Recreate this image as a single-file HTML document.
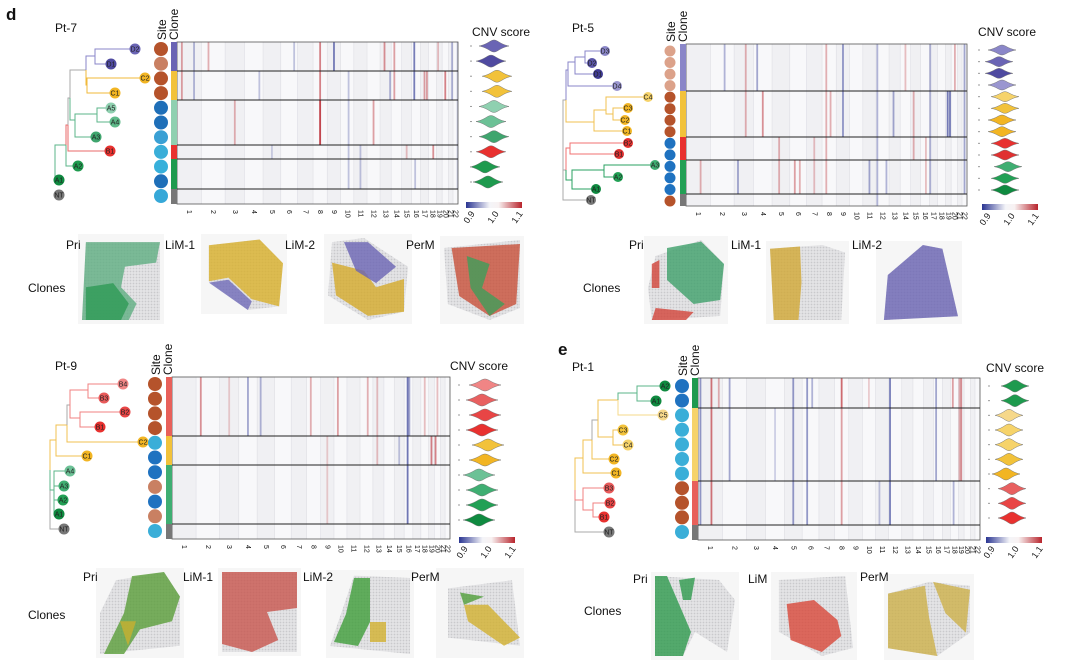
<!DOCTYPE html>
<html><head><meta charset="utf-8"><style>
html,body{margin:0;padding:0;background:#fff;}
svg{display:block;font-family:"Liberation Sans",sans-serif;}
</style></head><body>
<svg id="fig" width="1080" height="671" viewBox="0 0 1080 671" xmlns="http://www.w3.org/2000/svg">
<defs>
<linearGradient id="cb" x1="0" x2="1" y1="0" y2="0">
<stop offset="0" stop-color="#2a3592"/><stop offset="0.42" stop-color="#f4f4f8"/><stop offset="0.58" stop-color="#f8f2f2"/><stop offset="1" stop-color="#b8242c"/></linearGradient>
<pattern id="dots" width="3" height="3" patternUnits="userSpaceOnUse"><rect width="3" height="3" fill="#e4e4e6"/><circle cx="1.5" cy="1.5" r="0.9" fill="#c9c9cc"/></pattern>
</defs>
<g id="root"></g>
</svg>
<script>
// ---- shared data ----
const chromSizes=[249,243,198,190,181,171,159,145,138,134,135,133,114,107,102,90,83,80,59,64,47,51];
const chromLabels=['1','2','3','4','5','6','7','8','9','10','11','12','13','14','15','16','17','18','19','20','21','22'];
const cbTicks=['0.9','1.0','1.1'];

// ---- Pt-7 ----
const pt7Nodes=[
 ['R',55,162,'',null,'#5bb58a'],['A1',59,180,'A1','R','#5bb58a'],['X1',66,145,'',"R",'#5bb58a'],
 ['A2',78,166,'A2','X1','#5bb58a'],['X2',68,125,'','X1','#e86a6a'],['B1',110,151,'B1','X2','#e86a6a'],
 ['X3',70,98,'','X2','#aaaaaa'],['X4',75,120,'','X3','#5bb58a'],['A3',96,137,'A3','X4','#5bb58a'],
 ['X6',97,114,'','X4','#5bb58a'],['A5',111,108,'A5','X6','#5bb58a'],['A4',115,122,'A4','X6','#5bb58a'],
 ['X5',86,70,'','X3','#aaaaaa'],['X7',95,56,'','X5','#8a86c8'],['D2',135,49,'D2','X7','#8a86c8'],
 ['D1',111,64,'D1','X7','#8a86c8'],['X8',87,85,'','X5','#f0b93a'],['C2',145,78,'C2','X8','#f0b93a'],
 ['C1',115,93,'C1','X8','#f0b93a'],['NT',59,195,'NT',null,'#aaa']];
const pt7NodeColors={D2:'#6a64b4',D1:'#4f4aa0',C2:'#f2b523',C1:'#f2b523',A5:'#8fd0b0',A4:'#5fbb8a',A3:'#3fa56e',B1:'#e8312f',A2:'#1e9a4e',A1:'#0f8a40',NT:'#777'};
const pt7Site=['#b5532b','#c98062','#b5532b','#b5532b','#1f6fb8','#1f6fb8','#3aa0d4','#3aaed8','#37b0db','#1f6fb8','#36a8d8'];
const pt7Clones=[29,29,45,14,30,15];
const pt7CloneColors=['#6a64b4','#f2c23a','#8fd0b0','#e8312f','#1e9a4e','#777'];
const pt7Events=[[1,0.2,0,1,0.6],[1,0.7,0,1,-0.5],[2,0.3,0,0,0.5],[3,0.5,2,2,0.5],[4,0.8,1,1,-0.4],[8,0.5,0,2,0.8],[8,0.5,2,2,0.9],[9,0.5,0,0,-0.9],[10,0.6,1,4,-0.4],[12,0.5,2,2,0.6],[13,0.4,0,0,0.7],[14,0.3,0,1,0.6],[13,0.9,1,1,-0.5],[16,0.3,0,1,-0.9],[17,0.5,1,1,0.6],[17,0.8,1,1,0.6],[18,0.6,3,3,0.7],[20,0.5,1,1,0.8],[21,0.8,0,1,-0.5],[19,0.3,0,0,0.4],[22,0.9,0,4,-0.3],[5,0.5,3,3,-0.3],[11,0.5,3,4,-0.4],[6,0.8,0,0,-0.4],[16,0.4,4,4,-0.4],[15,0.5,3,3,0.4]];
const pt7ViolinScore=[1.0,0.99,1.01,1.01,1.0,0.99,1.0,0.99,0.97,0.98];
const pt7ViolinColors=['#6a64b4','#4f4aa0','#f2c23a','#f2c23a','#8fd0b0','#6cc196','#3fa56e','#e8312f','#1e9a4e','#1e9a4e'];

// ---- Pt-5 ----
const pt5Nodes=[
 ['R',563,142,'',null,'#aaa'],['NT',591,200,'NT','R','#aaa'],['Up',566,100,'','R','#aaa'],['Lo',566,170,'','R','#aaa'],
 ['Pp',568,70,'','Up','#8a86c8'],['D4',617,86,'D4','Pp','#8a86c8'],['Pq',575,62,'','Pp','#8a86c8'],['D1',598,74,'D1','Pq','#8a86c8'],
 ['Pr',585,57,'','Pq','#8a86c8'],['D3',605,51,'D3','Pr','#8a86c8'],['D2',592,63,'D2','Pr','#8a86c8'],
 ['Yy',594,122,'','Up','#f0c050'],['C1',627,131,'C1','Yy','#f0c050'],['Y2',606,110,'','Yy','#f0c050'],['C4',648,97,'C4','Y2','#f0c050'],
 ['Y3',613,114,'','Y2','#f0c050'],['C3',628,108,'C3','Y3','#f0c050'],['C2',625,120,'C2','Y3','#f0c050'],
 ['Rr',570,148,'','Lo','#f07070'],['B2',628,143,'B2','Rr','#f07070'],['B1',619,154,'B1','Rr','#f07070'],
 ['Gg',572,180,'','Lo','#2aa060'],['A1',596,189,'A1','Gg','#2aa060'],['Ga',604,170,'','Gg','#2aa060'],['A3',655,165,'A3','Ga','#2aa060'],['A2',618,177,'A2','Ga','#2aa060']];
const pt5NodeColors={D3:'#8a86c8',D2:'#5a55a8',D1:'#3f3a94',D4:'#9a96d0',C4:'#f6d36a',C3:'#f2b523',C2:'#f2b523',C1:'#f2b523',B2:'#e8312f',B1:'#e03030',A3:'#3fae72',A2:'#22a055',A1:'#0f8a40',NT:'#777'};
const pt5Site=['#dca28a','#dca28a','#dca28a','#dca28a','#b5532b','#b5532b','#b5532b','#b5532b','#1f72c0','#1f72c0','#1f72c0','#1f72c0','#1f72c0','#b5532b'];
const pt5Clones=[47,46,23,34,12];
const pt5CloneColors=['#8a86c8','#f2c23a','#e8312f','#22a055','#777'];
const pt5Events=[[3,0.6,0,1,0.5],[4,0.2,0,0,-0.6],[4,0.5,1,1,0.7],[5,0.4,2,3,0.5],[6,0.3,3,3,0.6],[6,0.6,3,3,0.5],[8,0.3,0,3,0.5],[8,0.6,1,1,0.5],[9,0.5,0,1,-0.7],[12,0.1,0,4,-0.5],[12,0.8,3,3,-0.5],[11,0.5,3,3,-0.6],[13,0.4,1,1,-0.6],[15,0.3,1,2,0.5],[17,0.1,0,3,-0.5],[19,0.4,1,1,-0.9],[19,0.8,1,1,-0.9],[22,0.5,0,3,-0.6],[2,0.6,0,0,-0.5],[3,0.2,3,3,-0.6],[1,0.6,3,3,0.5],[14,0.5,0,0,0.4],[20,0.6,0,0,0.5],[7,0.5,2,3,0.4],[16,0.6,2,3,0.4]];
const pt5ViolinScore=[1.0,0.99,0.99,1.0,1.01,1.01,1.0,1.0,1.01,1.01,1.02,1.01,1.01];
const pt5ViolinColors=['#8a86c8','#6a64b4','#4f4aa0','#9a96d0','#f6d36a','#f2c23a','#f2b523','#f2b523','#e8312f','#e03030','#3fae72','#22a055','#0f8a40'];

// ---- Pt-9 ----
const pt9Nodes=[
 ['R',50,470,'',null,'#aaa'],['NT',64,529,'NT','R','#aaa'],['G1',54,490,'','R','#5bb58a'],
 ['A1',59,514,'A1','G1','#5bb58a'],['A2',63,500,'A2','G1','#5bb58a'],['A3',64,486,'A3','G1','#5bb58a'],['A4',70,471,'A4','G1','#5bb58a'],
 ['Y1',56,440,'','R','#f0c050'],['C1',87,456,'C1','Y1','#f0c050'],['Y2',67,425,'','Y1','#f0c050'],['C2',143,442,'C2','Y2','#f0c050'],
 ['Rd',70,405,'','Y2','#aaa'],['Rd1',80,418,'','Rd','#f08080'],['B1',100,427,'B1','Rd1','#f08080'],['B2',125,412,'B2','Rd1','#f08080'],
 ['Rd2',88,390,'','Rd','#f08080'],['B3',104,398,'B3','Rd2','#f08080'],['B4',123,384,'B4','Rd2','#f08080']];
const pt9NodeColors={B4:'#f08585',B3:'#e85a5a',B2:'#e84545',B1:'#e8312f',C2:'#f2b523',C1:'#f2b523',A4:'#6cc196',A3:'#3fae72',A2:'#22a055',A1:'#0f8a40',NT:'#777'};
const pt9Site=['#b5532b','#b5532b','#b5532b','#b5532b','#3aaed8','#1f72c0','#1f72c0','#c98062','#1f72c0','#c98062','#3aaed8'];
const pt9Clones=[59,29,59,15];
const pt9CloneColors=['#e8605a','#f2c23a','#3fae72','#777'];
const pt9Events=[[2,0.2,0,0,0.7],[4,0.5,0,0,-0.6],[5,0.2,0,0,-0.5],[8,0.3,0,0,0.5],[10,0.3,0,0,0.6],[12,0.6,0,0,0.5],[13,0.4,0,1,0.4],[16,0.4,0,2,-0.95],[16,0.6,0,0,-0.6],[19,0.5,1,1,0.8],[20,0.2,1,1,0.8],[18,0.5,0,0,0.4],[20,0.5,0,0,0.4],[9,0.5,1,2,0.3],[15,0.5,1,1,-0.4],[3,0.5,0,0,0.3]];
const pt9ViolinScore=[1.01,1.0,1.01,1.0,1.02,1.01,0.99,1.0,1.0,0.99];
const pt9ViolinColors=['#f08585','#e86060','#e84545','#e8312f','#f2c23a','#f2b523','#6cc196','#3fae72','#22a055','#0f8a40'];

// ---- Pt-1 ----
const pt1Nodes=[
 ['R',575,490,'',null,'#aaa'],['NT',609,532,'NT','R','#aaa'],['Rr',583,500,'','R','#f08080'],['B3',609,488,'B3','Rr','#f08080'],
 ['Rb',593,510,'','Rr','#f08080'],['B2',610,503,'B2','Rb','#f08080'],['B1',604,517,'B1','Rb','#f08080'],
 ['Yy',583,458,'','R','#f0c050'],['C1',616,473,'C1','Yy','#f0c050'],['Y2',592,440,'','Yy','#f0c050'],['C2',614,459,'C2','Y2','#f0c050'],
 ['Y3',598,420,'','Y2','#aaa'],['Y4',613,437,'','Y3','#f0c050'],['C3',623,430,'C3','Y4','#f0c050'],['C4',628,445,'C4','Y4','#f0c050'],
 ['G0',618,400,'','Y3','#f0c050'],['C5',663,415,'C5','G0','#f6d88a'],['Ga',637,393,'','G0','#5bb58a'],['A2',665,386,'A2','Ga','#5bb58a'],['A1',656,401,'A1','Ga','#5bb58a']];
const pt1NodeColors={A2:'#0f8a40',A1:'#0f8a40',C5:'#f6d88a',C3:'#f2c23a',C4:'#f6d36a',C2:'#f2b523',C1:'#f2b523',B3:'#e85a5a',B2:'#e84545',B1:'#e8312f',NT:'#777'};
const pt1Site=['#1f72c0','#1f72c0','#3aaed8','#3aaed8','#3aaed8','#3aaed8','#3aaed8','#b5532b','#b5532b','#b5532b','#3aaed8'];
const pt1Clones=[30,73,44,15];
const pt1CloneColors=['#1e9a4e','#f6d36a','#e8605a','#777'];
const pt1Events=[[1,0.1,0,2,-0.7],[1,0.55,0,2,0.9],[1,0.85,0,0,0.5],[2,0.3,0,1,-0.6],[5,0.5,0,2,-0.7],[6,0.3,0,2,-0.7],[6,0.6,0,0,-0.5],[8,0.5,0,0,0.95],[8,0.5,1,2,0.6],[12,0.1,0,2,-0.9],[16,0.3,0,1,-0.6],[18,0.3,0,0,0.6],[19,0.5,0,1,0.7],[19,0.2,0,1,0.5],[11,0.3,2,2,-0.4],[18,0.4,2,2,-0.5],[4,0.5,1,1,-0.3],[10,0.5,0,0,0.3]];
const pt1ViolinScore=[1.01,1.01,0.99,0.99,0.99,0.99,0.98,1.0,1.0,1.0];
const pt1ViolinColors=['#1e9a4e','#1e9a4e','#f6d88a','#f6d36a','#f6d36a','#f2c23a','#f2b523','#e86060','#e84545','#e8312f'];

const NS='http://www.w3.org/2000/svg';
const root=document.getElementById('root');
function mk(tag,attrs,parent){const e=document.createElementNS(NS,tag);for(const k in attrs)e.setAttribute(k,attrs[k]);(parent||root).appendChild(e);return e;}
function txt(x,y,s,size,parent,extra){const t=mk('text',Object.assign({x:x,y:y,'font-size':size,fill:'#111'},extra||{}),parent);t.textContent=s;return t;}
function colorFor(v){const a=Math.min(1,Math.abs(v))*0.7;return v<0?`rgba(42,53,146,${a})`:`rgba(184,36,44,${a})`;}

function drawPanel(cfg){
 const g=mk('g',{});
 
 
 const tl=txt(cfg.titleX,cfg.titleY,cfg.title,12,g);
 
 
 const tg=mk('g',{},g);
 
 
 const byId={};cfg.nodes.forEach(n=>byId[n[0]]=n);
 cfg.nodes.forEach(n=>{if(n[4]){const p=byId[n[4]];mk('path',{d:`M${p[1]},${p[2]}V${n[2]}H${n[1]}`,stroke:n[5],fill:'none','stroke-width':1},tg);}});
 cfg.nodes.forEach(n=>{if(n[3]){const c=mk('circle',{cx:n[1],cy:n[2],r:cfg.nodeR,fill:cfg.nodeColors[n[3]]},tg);
  
  
  txt(n[1],n[2]+2.5,n[3],7,tg,{'text-anchor':'middle',fill:'#222'});}});
 const n=cfg.site.length,sy0=cfg.siteY0,sy1=cfg.siteY1,step=(sy1-sy0)/(n-1);
 cfg.site.forEach((c,i)=>{const s=mk('circle',{cx:cfg.siteX,cy:sy0+i*step,r:cfg.siteR,fill:c},g);
  
  });
 const ls=txt(0,0,'Site',12,g,{transform:`translate(${cfg.siteX+5},${cfg.hy0-2}) rotate(-90)`});
 
 
 const lc=txt(0,0,'Clone',12,g,{transform:`translate(${cfg.siteX+17},${cfg.hy0-2}) rotate(-90)`});
 
 
 const hx0=cfg.hx0,hx1=cfg.hx1,hy0=cfg.hy0,hy1=cfg.hy1;
 const tot=chromSizes.reduce((a,b)=>a+b,0);
 const xs=v=>hx0+v/tot*(hx1-hx0);
 const hg=mk('g',{},g);
 
 
 mk('rect',{x:hx0,y:hy0,width:hx1-hx0,height:hy1-hy0,fill:'#f5f5f7'},hg);
 let cum=0;const starts=[];
 chromSizes.forEach((s,i)=>{starts.push(cum);
  mk('rect',{x:xs(cum),y:hy0,width:xs(cum+s)-xs(cum),height:hy1-hy0,fill:i%2?'#f8f8fa':'#f0f0f3'},hg);
  mk('line',{x1:xs(cum),x2:xs(cum),y1:hy0,y2:hy1,stroke:'#dedee4','stroke-width':0.6},hg);
  const lab=txt(0,0,chromLabels[i],7,g,{transform:`translate(${xs(cum+s/2)-2},${hy1+6}) rotate(90)`});
  
  
  cum+=s;});
 const ctot=cfg.clones.reduce((a,b)=>a+b,0);const ys=v=>hy0+v/ctot*(hy1-hy0);
 const cst=[];let cc=0;cfg.clones.forEach(c=>{cst.push(cc);cc+=c;});
 cfg.clones.forEach((c,i)=>{const r=mk('rect',{x:hx0-6,y:ys(cst[i]),width:6,height:ys(cst[i]+c)-ys(cst[i]),fill:cfg.cloneColors[i]},g);
  
  });
 cfg.events.forEach(e=>{const ci=e[0]-1;const px=xs(starts[ci]+e[1]*chromSizes[ci]);
  const r=mk('rect',{x:px-0.9,y:ys(cst[e[2]]),width:1.8,height:ys(cst[e[3]]+cfg.clones[e[3]])-ys(cst[e[2]]),fill:colorFor(e[4])},hg);
  
  });
 mk('rect',{x:hx0,y:hy0,width:hx1-hx0,height:hy1-hy0,fill:'none',stroke:'#555','stroke-width':0.8},hg);
 cst.slice(1).forEach(c=>mk('line',{x1:hx0,x2:hx1,y1:ys(c),y2:ys(c),stroke:'#222','stroke-width':1},hg));
 const vg=mk('g',{},g);
 
 
 const nv=cfg.vScore.length,vstep=(cfg.vy1-cfg.vy0)/(nv-1);
 const vx=s=>cfg.vcx+(s-1)*300;
 cfg.vScore.forEach((s,i)=>{const cx=vx(s),cy=cfg.vy0+i*vstep,w=cfg.vw,h=cfg.vh;
  const p=mk('path',{d:`M${cx-w},${cy}C${cx-w*0.4},${cy-h*0.3} ${cx-w*0.25},${cy-h} ${cx},${cy-h}C${cx+w*0.25},${cy-h} ${cx+w*0.4},${cy-h*0.3} ${cx+w},${cy}C${cx+w*0.4},${cy+h*0.3} ${cx+w*0.25},${cy+h} ${cx},${cy+h}C${cx-w*0.25},${cy+h} ${cx-w*0.4},${cy+h*0.3} ${cx-w},${cy}Z`,fill:cfg.vColors[i],stroke:'#777','stroke-width':0.5},vg);
  
  
  mk('rect',{x:cfg.vcx-24,y:cy-0.5,width:2,height:1,fill:'#999'},vg);});
 const cl=txt(cfg.cnvX,cfg.cnvY,'CNV score',12,g);
 
 
 const cb=mk('rect',{x:cfg.cbx,y:cfg.cby,width:56,height:6,fill:'url(#cb)'},g);
 
 
 cbTicks.forEach((t,i)=>{const tt=txt(0,0,t,9,g,{transform:`translate(${cfg.cbx+2+i*24},${cfg.cby+22}) rotate(-55)`});
  
  });
 const cls=txt(cfg.clonesX,cfg.clonesY,'Clones',12,g);
 
 
 cfg.images.forEach(im=>{
  const ig=mk('g',{},g);
  
  
  mk('rect',{x:im.x-4,y:im.y-4,width:im.w+8,height:im.h+8,fill:'#f6f6f6'},ig);
  mk('polygon',{points:im.shape.map(p=>`${im.x+p[0]*im.w},${im.y+p[1]*im.h}`).join(' '),fill:'url(#dots)'},ig);
  im.regions.forEach(r=>mk('polygon',{points:r[1].map(p=>`${im.x+p[0]*im.w},${im.y+p[1]*im.h}`).join(' '),fill:r[0],opacity:0.8},ig));
  const l=txt(im.lx,im.ly,im.label,12,g);
  
  
 });
}

const sq=[[0,0],[1,0],[1,1],[0,1]];
drawPanel({name:'pt-7',title:'Pt-7',titleX:55,titleY:32,nodes:pt7Nodes,nodeColors:pt7NodeColors,nodeR:5.5,site:pt7Site,siteX:161,siteY0:49,siteY1:196,siteR:7,
 hx0:177,hx1:458,hy0:42,hy1:204,clones:pt7Clones,cloneColors:pt7CloneColors,events:pt7Events,
 vScore:pt7ViolinScore,vColors:pt7ViolinColors,vy0:46,vy1:182,vcx:494,vw:15,vh:6,cnvX:472,cnvY:36,cbx:466,cby:202,clonesX:28,clonesY:292,
 images:[
  {label:'Pri',lx:66,ly:249,x:82,y:238,w:78,h:82,shape:[[0.05,0.05],[1,0.05],[1,1],[0,1]],regions:[['#5fae82',[[0.05,0.05],[1,0.05],[0.95,0.3],[0.55,0.35],[0.5,0.6],[0.7,0.8],[0.6,1],[0,1]]],['#2e9a55',[[0.05,0.6],[0.4,0.55],[0.6,0.8],[0.5,1],[0.05,1]]]]},
  {label:'LiM-1',lx:165,ly:249,x:205,y:238,w:78,h:72,shape:[[0.05,0.1],[0.7,0.02],[1,0.35],[0.95,0.95],[0.55,1],[0.05,0.6]],regions:[['#d9b02a',[[0.05,0.1],[0.7,0.02],[1,0.35],[0.95,0.95],[0.6,0.85],[0.3,0.55],[0.05,0.6]]],['#6f6ab8',[[0.05,0.62],[0.3,0.58],[0.6,0.88],[0.55,1]]]]},
  {label:'LiM-2',lx:285,ly:249,x:328,y:238,w:80,h:82,shape:[[0.05,0.05],[0.45,0],[1,0.35],[0.95,0.9],[0.5,1],[0,0.7]],regions:[['#d4aa2a',[[0.05,0.3],[0.45,0.4],[0.6,0.6],[0.95,0.5],[0.95,0.9],[0.5,0.95],[0.1,0.7]]],['#6a64b4',[[0.2,0.05],[0.5,0.05],[0.85,0.35],[0.6,0.55],[0.35,0.4]]]]},
  {label:'PerM',lx:406,ly:249,x:444,y:240,w:76,h:80,shape:[[0,0.1],[1,0],[1,0.85],[0.6,1],[0.05,0.8]],regions:[['#c8503a',[[0.1,0.1],[1,0.05],[0.95,0.8],[0.6,0.95],[0.2,0.7]]],['#3f9e5a',[[0.3,0.2],[0.6,0.3],[0.5,0.6],[0.8,0.8],[0.6,0.95],[0.35,0.6]]]]}]});

drawPanel({name:'pt-5',title:'Pt-5',titleX:572,titleY:32,nodes:pt5Nodes,nodeColors:pt5NodeColors,nodeR:5,site:pt5Site,siteX:670,siteY0:51,siteY1:201,siteR:5.5,
 hx0:686,hx1:967,hy0:44,hy1:206,clones:pt5Clones,cloneColors:pt5CloneColors,events:pt5Events,
 vScore:pt5ViolinScore,vColors:pt5ViolinColors,vy0:50,vy1:190,vcx:1002,vw:14,vh:5,cnvX:978,cnvY:36,cbx:982,cby:204,clonesX:583,clonesY:292,
 images:[
  {label:'Pri',lx:629,ly:249,x:648,y:240,w:76,h:80,shape:[[0.1,0.2],[0.7,0],[1,0.3],[0.95,0.95],[0.05,1],[0,0.6]],regions:[['#3fa06a',[[0.25,0.1],[0.7,0.02],[1,0.3],[0.95,0.75],[0.6,0.8],[0.25,0.5]]],['#d2443a',[[0.05,0.3],[0.15,0.25],[0.15,0.6],[0.05,0.6]]],['#d2443a',[[0.1,0.85],[0.6,0.9],[0.5,1],[0.05,1]]]]},
  {label:'LiM-1',lx:731,ly:249,x:770,y:245,w:75,h:75,shape:[[0,0.05],[0.7,0],[1,0.1],[0.95,1],[0.05,1]],regions:[['#d1a834',[[0,0.05],[0.4,0.02],[0.42,0.5],[0.38,1],[0.05,1]]]]},
  {label:'LiM-2',lx:852,ly:249,x:880,y:245,w:78,h:75,shape:[[0.55,0],[0.8,0.05],[1,0.95],[0.05,1],[0.1,0.4]],regions:[['#6a64b4',[[0.55,0],[0.8,0.05],[1,0.95],[0.05,1],[0.1,0.4]]]]}]});

drawPanel({name:'pt-9',title:'Pt-9',titleX:55,titleY:370,nodes:pt9Nodes,nodeColors:pt9NodeColors,nodeR:5.5,site:pt9Site,siteX:155,siteY0:384,siteY1:531,siteR:7,
 hx0:172,hx1:450,hy0:377,hy1:539,clones:pt9Clones,cloneColors:pt9CloneColors,events:pt9Events,
 vScore:pt9ViolinScore,vColors:pt9ViolinColors,vy0:385,vy1:520,vcx:482,vw:16,vh:6,cnvX:450,cnvY:370,cbx:459,cby:537,clonesX:28,clonesY:619,
 images:[
  {label:'Pri',lx:83,ly:581,x:100,y:572,w:80,h:82,shape:[[0.2,0.1],[0.8,0],[1,0.3],[1,0.9],[0,1],[0,0.5]],regions:[['#5a9e3a',[[0.4,0.05],[0.8,0],[1,0.3],[0.9,0.6],[0.5,0.7],[0.3,1],[0.05,1],[0.3,0.5]]],['#c8b030',[[0.25,0.6],[0.45,0.6],[0.35,0.9]]]]},
  {label:'LiM-1',lx:183,ly:581,x:222,y:572,w:75,h:80,shape:sq,regions:[['#c8554e',[[0,0],[1,0],[1,0.45],[0.6,0.5],[0.75,0.85],[0.4,1],[0,0.9]]]]},
  {label:'LiM-2',lx:303,ly:581,x:330,y:574,w:80,h:80,shape:[[0.3,0.02],[1,0.05],[1,1],[0,0.9]],regions:[['#3f9e3a',[[0.3,0.05],[0.5,0.05],[0.5,0.6],[0.35,0.9],[0.05,0.85],[0.2,0.5]]],['#d2b030',[[0.5,0.6],[0.7,0.6],[0.7,0.85],[0.5,0.85]]]]},
  {label:'PerM',lx:411,ly:581,x:440,y:572,w:80,h:82,shape:[[0.1,0.2],[0.9,0.1],[1,0.9],[0.1,0.8]],regions:[['#d2b030',[[0.3,0.4],[0.6,0.4],[1,0.8],[0.8,0.9],[0.35,0.6]]],['#4f9e3a',[[0.25,0.25],[0.55,0.3],[0.3,0.4]]]]}]});

drawPanel({name:'pt-1',title:'Pt-1',titleX:572,titleY:371,nodes:pt1Nodes,nodeColors:pt1NodeColors,nodeR:5.5,site:pt1Site,siteX:682,siteY0:386,siteY1:532,siteR:7,
 hx0:698,hx1:980,hy0:378,hy1:540,clones:pt1Clones,cloneColors:pt1CloneColors,events:pt1Events,
 vScore:pt1ViolinScore,vColors:pt1ViolinColors,vy0:386,vy1:518,vcx:1012,vw:14,vh:6,cnvX:986,cnvY:372,cbx:986,cby:537,clonesX:584,clonesY:615,
 images:[
  {label:'Pri',lx:633,ly:583,x:655,y:576,w:80,h:80,shape:[[0,0],[0.8,0.05],[1,0.3],[0.9,0.95],[0.5,0.7],[0.35,1],[0,1]],regions:[['#2e9a4e',[[0,0],[0.15,0],[0.45,0.7],[0.35,1],[0,1]]],['#2e9a4e',[[0.3,0.05],[0.5,0.02],[0.45,0.3],[0.35,0.3]]]]},
  {label:'LiM',lx:748,ly:583,x:775,y:576,w:78,h:80,shape:[[0.05,0.05],[0.9,0],[1,0.9],[0.6,1],[0.05,0.7]],regions:[['#d8473a',[[0.15,0.35],[0.5,0.3],[0.8,0.55],[0.85,0.75],[0.6,0.95],[0.2,0.8]]]]},
  {label:'PerM',lx:860,ly:581,x:888,y:578,w:82,h:78,shape:[[0,0.2],[0.5,0.05],[1,0.1],[1,0.7],[0.6,1],[0,0.9]],regions:[['#cdb04a',[[0,0.2],[0.45,0.1],[0.5,0.5],[0.6,1],[0,0.9]]],['#cdb04a',[[0.55,0.05],[1,0.15],[0.95,0.7],[0.7,0.45]]]]}]});

const dL=txt(6,20,'d',17,root,{'font-weight':'bold'});


const eL=txt(558,355,'e',17,root,{'font-weight':'bold'});


</script>
</body></html>
